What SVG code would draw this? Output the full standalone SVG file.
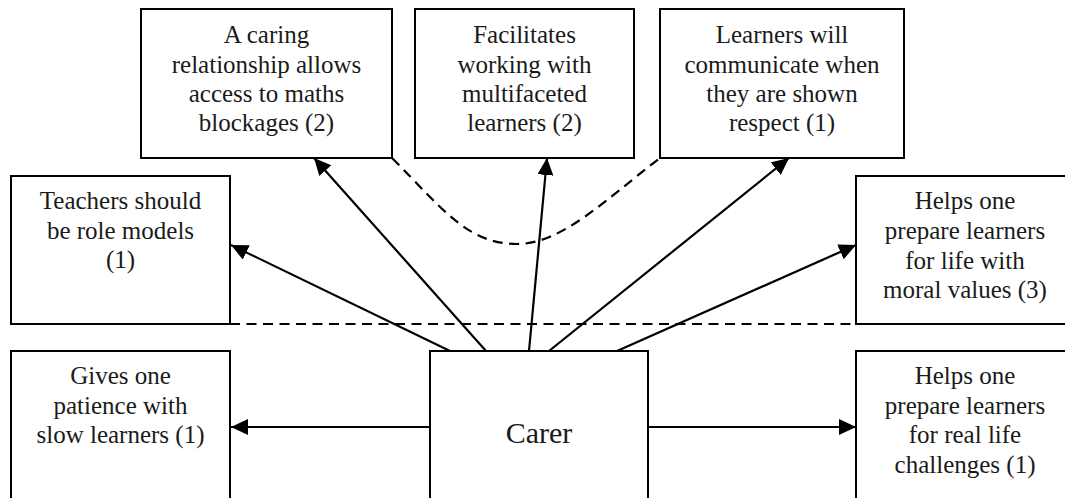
<svg xmlns="http://www.w3.org/2000/svg" width="1065" height="498" viewBox="0 0 1065 498">
<defs>
<marker id="ah" markerUnits="userSpaceOnUse" markerWidth="18" markerHeight="17" refX="17" refY="8" orient="auto">
<path d="M0,0 L17,8 L0,16 Z" fill="#000"/>
</marker>
</defs>
<rect width="1065" height="498" fill="#fff"/>
<g id="connectors" stroke="#000" stroke-width="2.2" fill="none">
<path stroke-dasharray="10 6.5" d="M230,324 H856"/>
<path stroke-dasharray="10 6.5" d="M392,158 C442,208 467,244 517,244 C562,244 605,200 660,158"/>
<line x1="450" y1="351" x2="231" y2="245" marker-end="url(#ah)"/>
<line x1="486" y1="351" x2="314" y2="158" marker-end="url(#ah)"/>
<line x1="529" y1="351" x2="547" y2="158" marker-end="url(#ah)"/>
<line x1="549" y1="351" x2="789" y2="158" marker-end="url(#ah)"/>
<line x1="617" y1="351" x2="856" y2="245" marker-end="url(#ah)"/>
<line x1="430" y1="427" x2="231" y2="427" marker-end="url(#ah)"/>
<line x1="648" y1="427" x2="856" y2="427" marker-end="url(#ah)"/>
</g>
<g font-family="Liberation Serif" font-size="25" text-anchor="middle">
<g id="n-teachers">
<rect x="11" y="176" width="219" height="148" fill="#fff" stroke="#000" stroke-width="2"/>
<text font-family="Liberation Serif" fill="#1a1a1a" x="120.5" y="209">Teachers should</text>
<text font-family="Liberation Serif" fill="#1a1a1a" x="120.5" y="239">be role models</text>
<text font-family="Liberation Serif" fill="#1a1a1a" x="120.5" y="268">(1)</text>
</g>
<g id="n-caring">
<rect x="141" y="9" width="251" height="149" fill="#fff" stroke="#000" stroke-width="2"/>
<text font-family="Liberation Serif" fill="#1a1a1a" x="266.5" y="43">A caring</text>
<text font-family="Liberation Serif" fill="#1a1a1a" x="266.5" y="72.5">relationship allows</text>
<text font-family="Liberation Serif" fill="#1a1a1a" x="266.5" y="102">access to maths</text>
<text font-family="Liberation Serif" fill="#1a1a1a" x="266.5" y="131">blockages (2)</text>
</g>
<g id="n-facilitates">
<rect x="415" y="9" width="219" height="149" fill="#fff" stroke="#000" stroke-width="2"/>
<text font-family="Liberation Serif" fill="#1a1a1a" x="524.5" y="43">Facilitates</text>
<text font-family="Liberation Serif" fill="#1a1a1a" x="524.5" y="72.5">working with</text>
<text font-family="Liberation Serif" fill="#1a1a1a" x="524.5" y="102">multifaceted</text>
<text font-family="Liberation Serif" fill="#1a1a1a" x="524.5" y="131">learners (2)</text>
</g>
<g id="n-learners">
<rect x="660" y="9" width="244" height="149" fill="#fff" stroke="#000" stroke-width="2"/>
<text font-family="Liberation Serif" fill="#1a1a1a" x="782" y="43">Learners will</text>
<text font-family="Liberation Serif" fill="#1a1a1a" x="782" y="72.5">communicate when</text>
<text font-family="Liberation Serif" fill="#1a1a1a" x="782" y="102">they are shown</text>
<text font-family="Liberation Serif" fill="#1a1a1a" x="782" y="131">respect (1)</text>
</g>
<g id="n-moral">
<rect x="856" y="176" width="230" height="148" fill="#fff" stroke="#000" stroke-width="2"/>
<text font-family="Liberation Serif" fill="#1a1a1a" x="965" y="209">Helps one</text>
<text font-family="Liberation Serif" fill="#1a1a1a" x="965" y="239">prepare learners</text>
<text font-family="Liberation Serif" fill="#1a1a1a" x="965" y="268.5">for life with</text>
<text font-family="Liberation Serif" fill="#1a1a1a" x="965" y="298">moral values (3)</text>
</g>
<g id="n-patience">
<rect x="11" y="351" width="219" height="160" fill="#fff" stroke="#000" stroke-width="2"/>
<text font-family="Liberation Serif" fill="#1a1a1a" x="120.5" y="384">Gives one</text>
<text font-family="Liberation Serif" fill="#1a1a1a" x="120.5" y="413.5">patience with</text>
<text font-family="Liberation Serif" fill="#1a1a1a" x="120.5" y="443">slow learners (1)</text>
</g>
<g id="n-carer">
<rect x="430" y="351" width="218" height="160" fill="#fff" stroke="#000" stroke-width="2"/>
<text font-family="Liberation Serif" fill="#1a1a1a" font-size="30" x="539" y="443">Carer</text>
</g>
<g id="n-real">
<rect x="856" y="351" width="230" height="160" fill="#fff" stroke="#000" stroke-width="2"/>
<text font-family="Liberation Serif" fill="#1a1a1a" x="965" y="384">Helps one</text>
<text font-family="Liberation Serif" fill="#1a1a1a" x="965" y="413.5">prepare learners</text>
<text font-family="Liberation Serif" fill="#1a1a1a" x="965" y="443">for real life</text>
<text font-family="Liberation Serif" fill="#1a1a1a" x="965" y="472.5">challenges (1)</text>
</g>
</g>
</svg>
